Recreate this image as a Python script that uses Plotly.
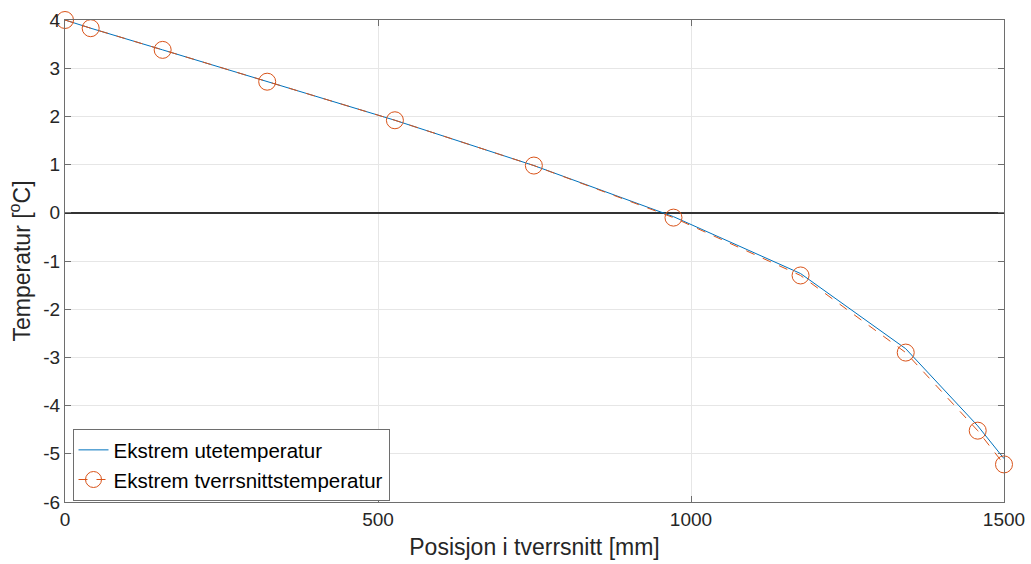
import plotly.graph_objects as go

# Data
x_ute = [0, 41, 156, 323, 527, 749, 972, 1175, 1343, 1458, 1500]
y_ute = [4.0, 3.83, 3.38, 2.72, 1.92, 0.98, -0.08, -1.26, -2.82, -4.42, -5.1]

x_tverr = [0, 41, 156, 323, 527, 749, 972, 1175, 1343, 1458, 1500]
y_tverr = [4.0, 3.83, 3.38, 2.72, 1.92, 0.98, -0.1, -1.3, -2.9, -4.52, -5.22]

x_ticks = [0, 500, 1000, 1500]
x_ticklabels = ["0", "500", "1000", "1500"]
y_ticks = [4, 3, 2, 1, 0, -1, -2, -3, -4, -5, -6]
y_ticklabels = ["4", "3", "2", "1", "0", "-1", "-2", "-3", "-4", "-5", "-6"]

blue = "#0072BD"
orange = "#D95319"

fig = go.Figure()
fig.add_trace(go.Scatter(
    x=x_ute, y=y_ute, mode="lines", name="Ekstrem utetemperatur",
    line=dict(color=blue, width=1), cliponaxis=False,
))
fig.add_trace(go.Scatter(
    x=x_tverr, y=y_tverr, mode="lines+markers", name="Ekstrem tverrsnittstemperatur",
    line=dict(color=orange, width=1, dash="dash"),
    marker=dict(symbol="circle-open", size=17, color=orange, line=dict(width=1)),
    cliponaxis=False,
))

axis_color = "#6e6e6e"
fig.update_layout(
    width=1031, height=564,
    margin=dict(l=65, r=27, t=20, b=62),
    paper_bgcolor="white", plot_bgcolor="white",
    font=dict(family="Liberation Sans, Arial, sans-serif", color="#262626"),
    showlegend=True,
    legend=dict(
        x=0.008, y=0.002, xanchor="left", yanchor="bottom",
        bordercolor=axis_color, borderwidth=1, bgcolor="white",
        font=dict(size=20.5, color="black"), tracegroupgap=0, itemwidth=30,
    ),
    xaxis=dict(
        range=[0, 1500], tickvals=x_ticks, ticktext=x_ticklabels,
        ticks="inside", ticklen=6, tickcolor=axis_color, automargin=False,
        showline=True, linecolor=axis_color, linewidth=1, mirror="ticks",
        showgrid=True, gridcolor="#e6e6e6", zeroline=False,
        tickfont=dict(size=19, color="#262626"),
        title=dict(text="Posisjon i tverrsnitt [mm]", font=dict(size=23, color="#262626"), standoff=10),
    ),
    yaxis=dict(
        range=[-6, 4], tickvals=y_ticks, ticktext=y_ticklabels,
        ticks="inside", ticklen=6, tickcolor=axis_color, automargin=False,
        showline=True, linecolor=axis_color, linewidth=1, mirror="ticks",
        showgrid=True, gridcolor="#e6e6e6",
        zeroline=True, zerolinecolor="#333333", zerolinewidth=1.5,
        tickfont=dict(size=19, color="#262626"),
        title=dict(text="Temperatur [<sup>o</sup>C]", font=dict(size=23, color="#262626"), standoff=6),
    ),
)

fig.write_html("out.html")
